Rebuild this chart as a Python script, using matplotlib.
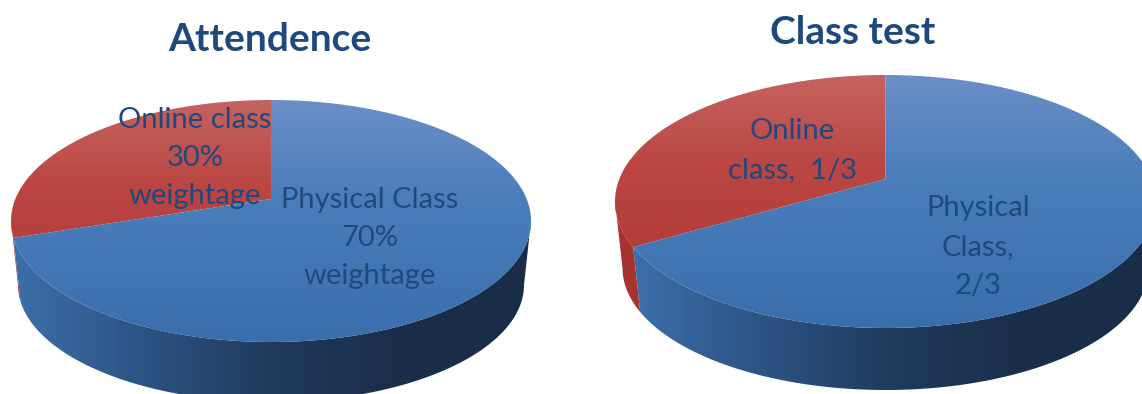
#!/usr/bin/env python3
# -*- coding: utf-8 -*-
"""Two tilted pie charts: weightage of online and physical classes."""

import numpy as np
import matplotlib
matplotlib.use("Agg")
import matplotlib.pyplot as plt
from matplotlib.colors import LinearSegmentedColormap
from matplotlib.patches import Polygon

titles = ["Attendence", "Class test"]
online_share = [30 / 100, 1 / 3]
physical_share = [70 / 100, 2 / 3]
online_labels = ["Online class\n30%\nweightage", "Online\nclass,  1/3"]
physical_labels = ["Physical Class\n70%\nweightage", "Physical\nClass,\n2/3"]

TEXT_COL = "#1f497d"
plt.rcParams["font.family"] = ["Lato", "DejaVu Sans"]

blue_top = LinearSegmentedColormap.from_list(
    "blue_top", [(0, "#6b8fc6"), (0.4, "#4a7ebb"), (1, "#3a6dac")])
red_top = LinearSegmentedColormap.from_list(
    "red_top", [(0, "#c4635f"), (0.35, "#bb4643"), (1, "#a83430")])
blue_wall = LinearSegmentedColormap.from_list(
    "blue_wall", [(0, "#3c6fa9"), (0.26, "#2c5282"), (0.5, "#1f3a5c"), (0.75, "#1a2e4a"), (1, "#1a2d48")])
red_wall = LinearSegmentedColormap.from_list("red_wall", ["#a8342f", "#98302c"])


def ellipse(t, cx, cy, rx, ry):
    """point on an ellipse, y pointing down like the pixel axes"""
    return np.column_stack([cx + rx*np.cos(t), cy - ry*np.sin(t)])


def boundary_angle(share, top, apex_y):
    """ellipse parameter where the slice edge leaves the apex and hits the rim"""
    cx, cy, rx, ry = top
    theta = np.pi/2 + 2*np.pi*share
    # flattened circle coordinates, the apex sits above the ellipse centre
    ox, oy = 0.0, (cy - apex_y)/ry
    dx, dy = np.cos(theta), np.sin(theta)
    b = ox*dx + oy*dy
    s = -b + np.sqrt(b*b - (ox*ox + oy*oy - 1))
    return np.arctan2(oy + s*dy, ox + s*dx) % (2*np.pi)


def fill_gradient(ax, verts, cmap, extent, horizontal=False):
    patch = Polygon(verts, closed=True, facecolor="none", edgecolor="none")
    ax.add_patch(patch)
    ramp = np.linspace(0, 1, 256)
    ramp = ramp.reshape(1, -1) if horizontal else ramp.reshape(-1, 1)
    im = ax.imshow(ramp, cmap=cmap, extent=extent, aspect="auto", origin="upper",
                   interpolation="bilinear", zorder=2)
    im.set_clip_path(patch)


def draw_pie(ax, share, top, bottom, apex_y):
    cx, cy, rx, ry = top
    tb = boundary_angle(share, top, apex_y)

    # side wall first, the top face goes over it
    left = cx - rx
    right = cx + rx
    t_red = np.linspace(np.pi, tb, 30)
    t_blue = np.linspace(tb, 2*np.pi, 200)
    for tt, cmap in [(t_red, red_wall), (t_blue, blue_wall)]:
        verts = np.vstack([ellipse(tt, *top), ellipse(tt[::-1], *bottom)])
        x0 = verts[:, 0].min() if cmap is blue_wall else left
        fill_gradient(ax, verts, cmap, (x0, right, cy + 200, cy - ry), horizontal=True)

    apex = np.array([[cx, apex_y]])
    t_online = np.linspace(np.pi/2, tb, 150)
    t_physical = np.linspace(tb, 2.5*np.pi, 300)
    ext = (left, right, cy + ry, cy - ry)
    fill_gradient(ax, np.vstack([apex, ellipse(t_online, *top)]), red_top, ext)
    fill_gradient(ax, np.vstack([apex, ellipse(t_physical, *top)]), blue_top, ext)


fig = plt.figure(figsize=(11.42, 3.94), dpi=100)
ax = fig.add_axes([0, 0, 1, 1])

# cx, cy, rx, ry of the upper face and of the lower rim
tops = [(271, 221, 260, 121), (885.5, 201.5, 270.5, 126.5)]
bottoms = [(271, 285, 253, 117), (885.5, 268, 263, 122)]
apex_ys = [199, 179]

for i in range(2):
    draw_pie(ax, online_share[i], tops[i], bottoms[i], apex_ys[i])

ax.set_xlim(0, 1142)
ax.set_ylim(394, 0)
ax.axis("off")

ax.text(270, 39, titles[0], color=TEXT_COL, fontsize=28, fontweight="bold",
        ha="center", va="center", zorder=5)
ax.text(853, 32, titles[1], color=TEXT_COL, fontsize=28, fontweight="bold",
        ha="center", va="center", zorder=5)

label_style = dict(color=TEXT_COL, fontsize=21, ha="center", va="center",
                   multialignment="center", zorder=5)
ax.text(195, 158, online_labels[0], linespacing=1.57, **label_style)
ax.text(370, 238, physical_labels[0], linespacing=1.57, **label_style)
ax.text(792, 151, online_labels[1], linespacing=1.62, **label_style)
ax.text(978, 247, physical_labels[1], linespacing=1.6, **label_style)

plt.savefig("out.png", dpi=100)
